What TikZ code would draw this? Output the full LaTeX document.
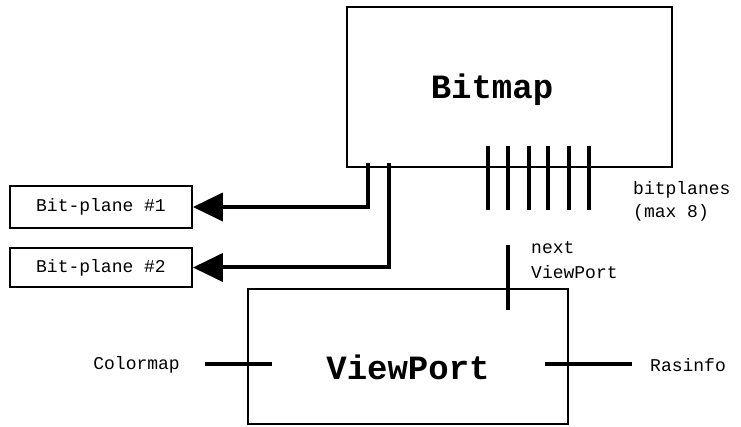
\documentclass[tikz,border=0pt]{standalone}
\usepackage{fontspec}
\setmonofont{Liberation Mono}
\usetikzlibrary{arrows.meta, positioning, calc}

\begin{document}
\begin{tikzpicture}[x=1pt, y=-1pt,
    box/.style={draw, line width=1.8pt, inner sep=0pt},
    title/.style={font=\ttfamily\bfseries\fontsize{34}{40}\selectfont, inner sep=0pt},
    lbl/.style={font=\ttfamily\fontsize{18}{22}\selectfont, inner sep=0pt},
    tick/.style={line width=4.5pt},
    arrow/.style={line width=4pt, -{Triangle[length=30pt, width=28pt]}},
]
\useasboundingbox (0,0) rectangle (741,427);

% boxes
\node[box, minimum width=325pt, minimum height=160pt] (bitmap) at (509.5, 87) {};
\node[title] (bitmaptext) at (492, 90) {Bitmap};
\node[box, minimum width=320pt, minimum height=135pt] (vp) at (408, 356.5) {};
\node[title] (vptext) at (408, 367) {ViewPort};

\node[box, lbl, minimum width=182pt, minimum height=42pt] (bp1) at (101, 207) {Bit-plane \#1};
\node[box, lbl, minimum width=182pt, minimum height=39pt] (bp2) at (101, 267.5) {Bit-plane \#2};

% bitplanes
\foreach \x in {488, 508, 529, 548, 569, 589}
    \draw[tick] (\x, 146) -- (\x, 210);
\node[lbl, anchor=west] (bitplanes) at (633, 190) {bitplanes};
\node[lbl, anchor=west] (max) at (633, 213) {(max 8)};

% bit-plane arrows
\coordinate (t1) at (368, 163);
\coordinate (t2) at (389, 163);
\draw[arrow] (t1) |- (bp1.east);
\draw[arrow] (t2) |- (bp2.east);

% next viewport
\draw[tick] (508, 245) -- (508, 310);
\node[lbl, anchor=west] (next) at (531, 248) {next};
\node[lbl, anchor=west] (nextvp) at (531, 272) {ViewPort};

% colormap, rasinfo
\draw[tick] (205, 364) -- (272, 364);
\node[lbl, anchor=east] (cmap) at (180, 365) {Colormap};
\draw[tick] (545, 364) -- (632, 364);
\node[lbl, anchor=west] (ras) at (650, 365) {Rasinfo};

\end{tikzpicture}
\end{document}
